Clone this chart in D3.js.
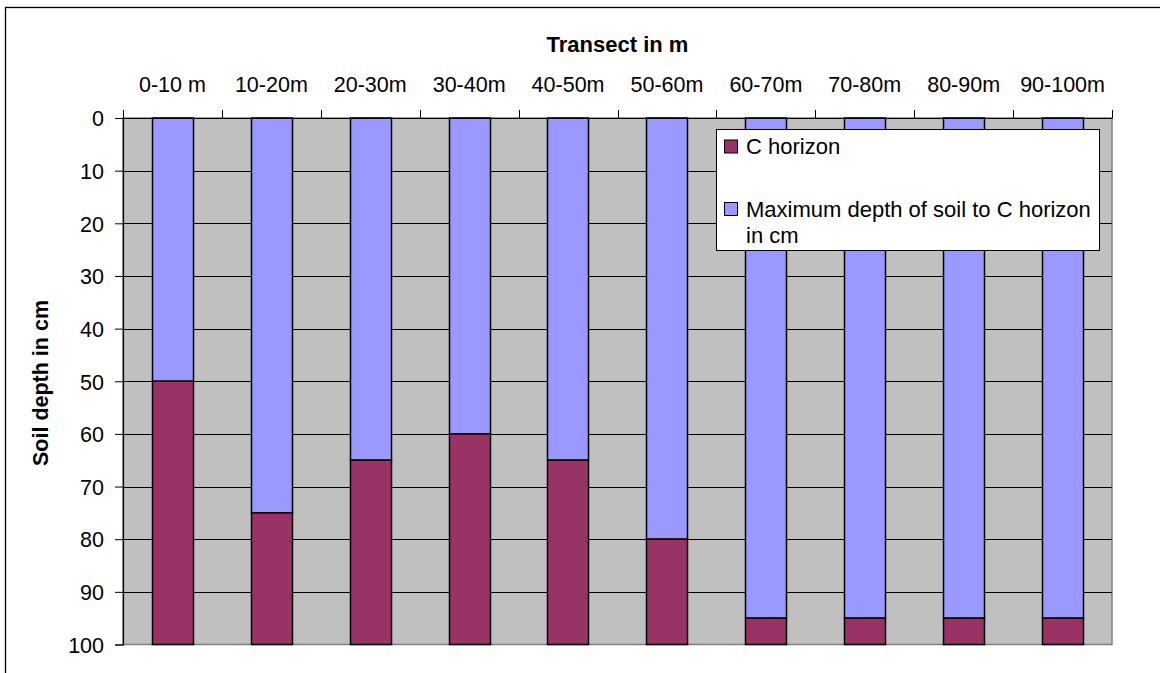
<!DOCTYPE html>
<html>
<head>
<meta charset="utf-8">
<script src="https://cdn.jsdelivr.net/npm/d3@7"></script>
<style>
  html, body { margin: 0; padding: 0; background: #fff; }
  svg { display: block; }
  text { font-family: "Liberation Sans", Arial, sans-serif; fill: #000; }
</style>
</head>
<body>
<svg id="chart" width="1160" height="673"></svg>
<script>
// ---- data ----
const categories = ["0-10 m", "10-20m", "20-30m", "30-40m", "40-50m", "50-60m", "60-70m", "70-80m", "80-90m", "90-100m"];
const soilDepth  = [50, 75, 65, 60, 65, 80, 95, 95, 95, 95]; // Maximum depth of soil to C horizon in cm
const cHorizon   = [50, 25, 35, 40, 35, 20, 5, 5, 5, 5];      // C horizon
const yTicks     = [0, 10, 20, 30, 40, 50, 60, 70, 80, 90, 100];
const seriesNames = ["Maximum depth of soil to C horizon in cm", "C horizon"];
const seriesColors = ["#9999FF", "#993366"];

// ---- layout ----
const svg = d3.select("#chart");
const plot = { left: 123, right: 1112, top: 118, bottom: 644.5 };

// outer frame (extends past right/bottom edge)
svg.append("rect")
  .attr("x", 5.5).attr("y", 7.5).attr("width", 1200).attr("height", 700)
  .attr("fill", "none").attr("stroke", "#000").attr("stroke-width", 1.3);

const x = d3.scaleBand().domain(categories).range([plot.left, plot.right]).padding(0);
const y = d3.scaleLinear().domain([0, 100]).range([plot.top, plot.bottom]);
const barW = x.bandwidth() / 2.4;

// plot background
svg.append("rect")
  .attr("x", plot.left).attr("y", plot.top)
  .attr("width", plot.right - plot.left).attr("height", plot.bottom - plot.top)
  .attr("fill", "#C0C0C0").attr("stroke", "#808080").attr("stroke-width", 1.5);

// gridlines
svg.append("g").selectAll("line")
  .data(yTicks.filter(t => t > 0 && t < 100))
  .join("line")
  .attr("x1", plot.left).attr("x2", plot.right)
  .attr("y1", d => Math.round(y(d)) + 0.5).attr("y2", d => Math.round(y(d)) + 0.5)
  .attr("stroke", "#000").attr("stroke-width", 1);

// stacked bars
const table = categories.map((c, i) => ({ cat: c, soil: soilDepth[i], c: cHorizon[i] }));
const stack = d3.stack().keys(["soil", "c"])(table);
svg.append("g").selectAll("g")
  .data(stack)
  .join("g")
  .attr("fill", (d, i) => seriesColors[i])
  .selectAll("rect")
  .data(d => d)
  .join("rect")
  .attr("x", d => Math.round(x(d.data.cat) + (x.bandwidth() - barW) / 2) + 0.5)
  .attr("y", d => y(d[0]))
  .attr("width", Math.round(barW))
  .attr("height", d => y(d[1]) - y(d[0]))
  .attr("stroke", "#000").attr("stroke-width", 1.5);

// y axis (left)
const yAxis = d3.axisLeft(y).tickValues(yTicks).tickSize(8).tickPadding(11).tickFormat(d3.format("d"));
const gy = svg.append("g").attr("transform", `translate(${plot.left},0)`).call(yAxis);
gy.select(".domain").attr("stroke", "#000").attr("stroke-width", 1.2);
gy.selectAll(".tick line").attr("stroke", "#000");
gy.selectAll(".tick text").attr("font-size", 21.5).attr("font-family", "Liberation Sans, Arial, sans-serif").attr("dy", "0.36em");

// x axis (top)
const xAxis = d3.axisTop(x).tickSize(0).tickPadding(26);
const gx = svg.append("g").attr("transform", `translate(0,${plot.top})`).call(xAxis);
gx.select(".domain").attr("stroke", "#000").attr("stroke-width", 1.2);
gx.selectAll(".tick text").attr("font-size", 21.5).attr("font-family", "Liberation Sans, Arial, sans-serif");
// tick marks between categories
const boundaries = categories.map(c => x(c)).concat([plot.right]);
gx.append("g").selectAll("line")
  .data(boundaries)
  .join("line")
  .attr("x1", d => Math.round(d) + 0.5).attr("x2", d => Math.round(d) + 0.5)
  .attr("y1", 0).attr("y2", -8)
  .attr("stroke", "#000").attr("stroke-width", 1);

// axis titles
svg.append("text")
  .attr("x", (plot.left + plot.right) / 2).attr("y", 52)
  .attr("text-anchor", "middle").attr("font-weight", "bold").attr("font-size", 22)
  .text("Transect in m");

svg.append("text")
  .attr("transform", `translate(48,383) rotate(-90)`)
  .attr("text-anchor", "middle").attr("font-weight", "bold").attr("font-size", 21.5)
  .text("Soil depth in cm");

// legend
const lg = svg.append("g");
lg.append("rect")
  .attr("x", 716.5).attr("y", 129.5).attr("width", 383).attr("height", 121)
  .attr("fill", "#fff").attr("stroke", "#000").attr("stroke-width", 1);
const legendItems = [
  { name: "C horizon", color: seriesColors[1], lines: ["C horizon"], sy: 140 },
  { name: seriesNames[0], color: seriesColors[0], lines: ["Maximum depth of soil to C horizon", "in cm"], sy: 202.5 }
];
legendItems.forEach(it => {
  lg.append("rect").attr("x", 724.5).attr("y", it.sy).attr("width", 13).attr("height", 13)
    .attr("fill", it.color).attr("stroke", "#000").attr("stroke-width", 1);
  const t = lg.append("text").attr("x", 746).attr("y", it.sy + 14).attr("font-size", 22);
  it.lines.forEach((l, i) => {
    t.append("tspan").attr("x", 746).attr("dy", i === 0 ? 0 : 26).text(l);
  });
});
</script>
</body>
</html>
